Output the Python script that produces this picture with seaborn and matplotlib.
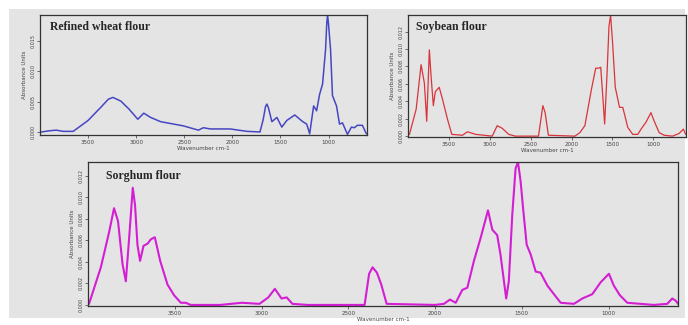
import numpy as np
import pandas as pd
import matplotlib.pyplot as plt
import seaborn as sns
from matplotlib.patches import Rectangle

sns.set_style("white")
plt.rcParams["font.family"] = ["DejaVu Sans"]

# wavenumber (cm-1) and absorbance
wheat_wn = [3985, 3900, 3830, 3760, 3655, 3500, 3366, 3290, 3242, 3160, 3076,
            2983, 2921, 2850, 2746, 2508, 2353, 2302, 2229, 2023, 1847, 1713,
            1680, 1655, 1641, 1625, 1589, 1537, 1486, 1434, 1351, 1268, 1227,
            1196, 1155, 1124, 1093, 1062, 1031, 1018, 1010, 1000, 979, 959,
            917, 886, 855, 803, 762, 731, 700, 648, 607]
wheat_abs = [0.0000, 0.0002, 0.0003, 0.0001, 0.0001, 0.0019, 0.0041, 0.0054,
             0.0057, 0.0051, 0.0038, 0.0021, 0.0031, 0.0024, 0.0017, 0.0010,
             0.0003, 0.0007, 0.0005, 0.0005, 0.0001, 0.0000, 0.0020, 0.0042,
             0.0046, 0.0040, 0.0017, 0.0024, 0.0008, 0.0019, 0.0028, 0.0017,
             0.0013, -0.0003, 0.0043, 0.0035, 0.0062, 0.0079, 0.0136, 0.0180,
             0.0193, 0.0178, 0.0136, 0.0060, 0.0043, 0.0013, 0.0015, -0.0004,
             0.0008, 0.0007, 0.0011, 0.0011, -0.0003]

soy_wn = [3982, 3900, 3840, 3800, 3771, 3739, 3718, 3690, 3666, 3618, 3577,
          3516, 3464, 3334, 3273, 3172, 2970, 2909, 2848, 2768, 2687, 2404,
          2375, 2351, 2323, 2283, 1959, 1898, 1837, 1756, 1704, 1667, 1643,
          1615, 1595, 1567, 1542, 1522, 1498, 1465, 1413, 1373, 1312, 1251,
          1190, 1150, 1089, 1029, 988, 928, 867, 766, 685, 632, 604]
soy_abs = [0.0002, 0.0031, 0.0082, 0.0061, 0.0017, 0.0099, 0.0069, 0.0035,
           0.0051, 0.0056, 0.0042, 0.0019, 0.0002, 0.0001, 0.0005, 0.0002,
           0.0000, 0.0012, 0.0009, 0.0002, 0.0000, 0.0000, 0.0019, 0.0035,
           0.0027, 0.0001, 0.0000, 0.0004, 0.0012, 0.0054, 0.0078, 0.0078,
           0.0079, 0.0042, 0.0014, 0.0069, 0.0126, 0.0139, 0.0107, 0.0056,
           0.0033, 0.0033, 0.0010, 0.0002, 0.0002, 0.0008, 0.0016, 0.0027,
           0.0017, 0.0004, 0.0001, 0.0000, 0.0003, 0.0008, 0.0002]

sorghum_wn = [3994, 3926, 3878, 3850, 3827, 3801, 3782, 3763, 3742, 3729, 3715,
              3700, 3680, 3657, 3638, 3615, 3584, 3542, 3504, 3465, 3437, 3408,
              3239, 3113, 3012, 2961, 2923, 2885, 2855, 2822, 2734, 2406, 2380,
              2360, 2335, 2310, 2279, 2001, 1949, 1914, 1881, 1843, 1814, 1776,
              1738, 1695, 1670, 1642, 1623, 1603, 1590, 1575, 1555, 1536, 1522,
              1507, 1491, 1472, 1449, 1420, 1392, 1353, 1315, 1276, 1200, 1151,
              1094, 1046, 998, 970, 935, 892, 816, 739, 662, 633, 614, 594]
sorghum_abs = [0.0001, 0.0035, 0.0068, 0.0090, 0.0078, 0.0038, 0.0022, 0.0062,
               0.0109, 0.0093, 0.0056, 0.0041, 0.0055, 0.0057, 0.0061, 0.0063,
               0.0041, 0.0019, 0.0009, 0.0002, 0.0002, 0.0000, 0.0000, 0.0002,
               0.0001, 0.0007, 0.0015, 0.0006, 0.0007, 0.0001, 0.0000, 0.0000,
               0.0029, 0.0035, 0.0030, 0.0019, 0.0001, 0.0000, 0.0001, 0.0005,
               0.0002, 0.0014, 0.0016, 0.0041, 0.0062, 0.0088, 0.0070, 0.0065,
               0.0047, 0.0022, 0.0006, 0.0022, 0.0084, 0.0127, 0.0133, 0.0115,
               0.0087, 0.0056, 0.0047, 0.0031, 0.0030, 0.0018, 0.0010, 0.0002,
               0.0001, 0.0006, 0.0010, 0.0021, 0.0029, 0.0018, 0.0009, 0.0002,
               0.0001, 0.0000, 0.0001, 0.0006, 0.0004, 0.0000]

x_ticks = [3500, 3000, 2500, 2000, 1500, 1000]
wheat_yticks = [0.000, 0.005, 0.010, 0.015]
soy_yticks = [0.000, 0.002, 0.004, 0.006, 0.008, 0.010, 0.012]
sorghum_yticks = [0.000, 0.002, 0.004, 0.006, 0.008, 0.010, 0.012]

bg = "#e4e4e4"
fig = plt.figure(figsize=(6.88, 3.25), dpi=100, facecolor="white")
fig.patches.append(Rectangle((9 / 688, 7 / 325), 676 / 688, 309 / 325,
                             transform=fig.transFigure, facecolor=bg,
                             edgecolor="none", zorder=-1))


def panel(rect, wn, ab, color, lw, title, yticks, ylim, fmt):
    ax = fig.add_axes(rect)
    df = pd.DataFrame({"wn": wn, "abs": ab})
    sns.lineplot(data=df, x="wn", y="abs", ax=ax, color=color, lw=lw,
                 estimator=None, sort=False)
    ax.set_facecolor(bg)
    ax.set_xlim(4000, 600)
    ax.set_ylim(*ylim)
    ax.set_xticks(x_ticks)
    ax.set_xticklabels([str(t) for t in x_ticks], fontsize=4, color="#444444")
    ax.set_yticks(yticks)
    ax.set_yticklabels([fmt.format(t) for t in yticks], fontsize=3.5,
                       color="#444444", rotation=90, va="center")
    ax.tick_params(length=2, width=0.6, pad=1.5, color="#555555",
                   bottom=True, left=True)
    ax.set_xlabel("Wavenumber cm-1", fontsize=4, labelpad=1, color="#444444")
    ax.set_ylabel("Absorbance Units", fontsize=4, labelpad=2, color="#444444")
    for s in ax.spines.values():
        s.set_color("#333333")
        s.set_linewidth(0.9)
    ax.text(0.03, 0.9, title, transform=ax.transAxes, fontsize=8.5,
            fontweight="bold", family="Liberation Serif", va="center")
    return ax


panel([40 / 688, 1 - 135 / 325, 327 / 688, 120 / 325], wheat_wn, wheat_abs,
      "#4646c4", 1.1, "Refined wheat flour", wheat_yticks, (-0.0005, 0.0193),
      "{:.3f}")
panel([408 / 688, 1 - 137 / 325, 278 / 688, 122 / 325], soy_wn, soy_abs,
      "#d8343c", 0.9, "Soybean flour", soy_yticks, (-0.0001, 0.0139),
      "{:.3f}")
panel([88 / 688, 1 - 306 / 325, 590 / 688, 144 / 325], sorghum_wn, sorghum_abs,
      "#d41ed4", 1.5, "Sorghum flour", sorghum_yticks, (-0.0001, 0.0133),
      "{:.3f}")

plt.savefig("out.png", dpi=100, facecolor=fig.get_facecolor())
